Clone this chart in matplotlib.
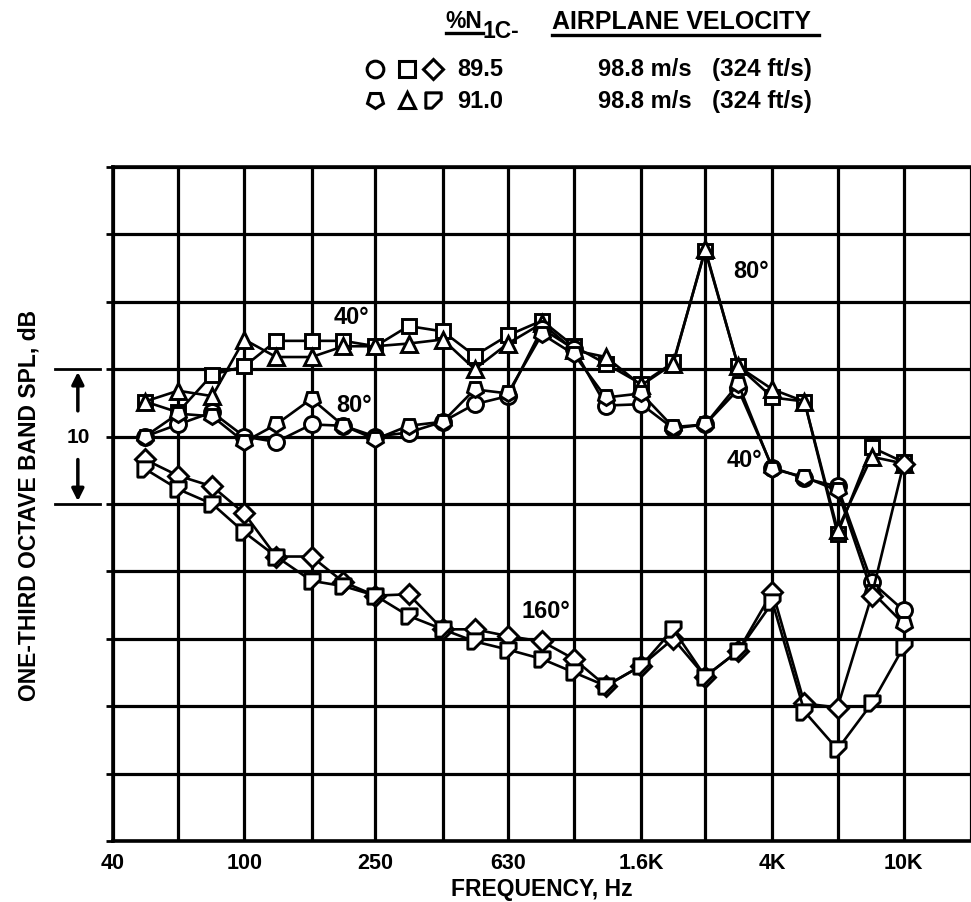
import matplotlib
matplotlib.use('Agg')
import matplotlib.pyplot as plt
from matplotlib.markers import MarkerStyle
from matplotlib.path import Path
from matplotlib.transforms import Affine2D, blended_transform_factory
from matplotlib.lines import Line2D

# ---------------- data ----------------
freq = [50, 63, 80, 100, 125, 160, 200, 250, 315, 400, 500, 630, 800, 1000,
        1250, 1600, 2000, 2500, 3150, 4000, 5000, 6300, 8000, 10000]

# 89.5 % N1C  (open circle / square / diamond)
spl_sq_895 = [82.6, 81.8, 84.6, 85.2, 87.1, 87.1, 87.1, 86.7, 88.2, 87.8, 86.0, 87.5,
              88.6, 86.7, 85.4, 83.9, 85.5, 93.8, 85.2, 82.9, 82.6, 72.8, 79.2, 78.1]
spl_ci_895 = [80.0, 80.9, 81.8, 80.0, 79.6, 80.9, 80.8, 80.0, 80.3, 81.1, 82.4, 83.0,
              88.0, 86.5, 82.3, 82.4, 80.6, 80.9, 83.5, 77.7, 76.9, 76.3, 69.2, 67.1]
spl_di_895 = [78.3, 77.1, 76.3, 74.3, 71.1, 71.1, 69.2, 68.2, 68.3, 65.7, 65.7, 65.2,
              64.8, 63.5, 61.5, 63.0, 65.0, 62.2, 64.1, 68.5, 60.2, 59.9, 68.2, 78.0]
# 91.0 % N1C  (pentagon / triangle / flag)
spl_tr_910 = [82.6, 83.4, 83.0, 87.2, 85.9, 85.9, 86.7, 86.7, 86.9, 87.2, 85.0, 86.9,
              88.4, 86.4, 85.9, 83.8, 85.4, 93.9, 85.2, 83.5, 82.6, 73.1, 78.5, 78.0]
spl_pe_910 = [80.0, 81.7, 81.5, 79.6, 80.9, 82.8, 80.8, 79.8, 80.8, 81.1, 83.5, 83.2,
              87.6, 86.1, 82.9, 83.2, 80.7, 80.9, 83.9, 77.6, 77.0, 76.0, 68.5, 66.1]
spl_fl_910 = [77.6, 76.1, 75.0, 72.9, 71.1, 69.3, 68.9, 68.2, 66.7, 65.7, 64.8, 64.2,
              63.5, 62.5, 61.5, 63.0, 65.7, 62.2, 64.1, 67.7, 59.6, 56.8, 60.2, 64.4]

grid_freqs = [40, 63, 100, 160, 250, 400, 630, 1000, 1600, 2500, 4000, 6300, 10000, 16000]
tick_labels = ['40', '', '100', '', '250', '', '630', '', '1.6K', '', '4K', '', '10K', '']

angle_labels = ['40°', '80°', '80°', '40°', '160°']
angle_pos = [(212, 88.9), (216, 82.4), (3450, 92.3), (3290, 78.3), (820, 67.1)]

nc_values = ['89.5', '91.0']
velocity = ['98.8 m/s', '98.8 m/s']
velocity_ft = ['(324 ft/s)', '(324 ft/s)']

# ---------------- style ----------------
FONT = ['Liberation Sans', 'DejaVu Sans']
plt.rcParams['font.family'] = FONT
plt.rcParams['font.weight'] = 'bold'

flag_path = Path([(-1, 1), (1, 1), (1, 0.2), (-0.2, -1), (-1, -1), (-1, 1)],
                 [Path.MOVETO, Path.LINETO, Path.LINETO, Path.LINETO, Path.LINETO, Path.CLOSEPOLY])
pent_down = MarkerStyle('p', transform=Affine2D().rotate_deg(180))

fig = plt.figure(figsize=(9.71, 9.03), dpi=100)
ax = fig.add_axes([0.1164, 0.0676, 0.8836, 0.7464])

series = [
    (spl_sq_895, 's', 10.5),
    (spl_tr_910, '^', 11.5),
    (spl_ci_895, 'o', 11.5),
    (spl_pe_910, pent_down, 12),
    (spl_di_895, 'D', 10),
    (spl_fl_910, flag_path, 11),
]
for vals, mk, ms in series:
    ax.plot(freq, vals, color='black', lw=1.9, marker=mk, ms=ms,
            mfc='white', mec='black', mew=2.1, zorder=4, clip_on=False)

ax.set_xscale('log')
ax.set_xlim(40, 16000)
ax.set_ylim(50, 100)
ax.set_xticks(grid_freqs)
ax.set_xticklabels(tick_labels)
ax.xaxis.set_minor_locator(matplotlib.ticker.NullLocator())
ax.set_yticks(range(50, 101, 5))
ax.set_yticklabels([])
ax.tick_params(axis='x', length=0, pad=8, labelsize=15.5)
ax.tick_params(axis='y', length=5, width=2, direction='out')
for lab in ax.get_xticklabels():
    lab.set_fontweight('bold')
ax.grid(True, which='major', color='black', lw=2.3, zorder=1)
for s in ['left', 'bottom', 'top']:
    ax.spines[s].set_linewidth(2.6)
ax.spines['right'].set_visible(False)

ax.set_xlabel('FREQUENCY, Hz', fontsize=16.5, fontweight='bold', labelpad=3)
ax.set_ylabel('ONE-THIRD OCTAVE BAND SPL, dB', fontsize=16.5, fontweight='bold')
ax.yaxis.set_label_coords(-0.084, 0.5)

for txt, (fx, fy) in zip(angle_labels, angle_pos):
    ax.text(fx, fy, txt, fontsize=17, fontweight='bold', ha='center', va='center', zorder=5)

# 10 dB scale bracket
tr = blended_transform_factory(ax.transAxes, ax.transData)
for yv in (85, 75):
    ax.add_line(Line2D([-0.068, -0.015], [yv, yv], transform=tr, color='black', lw=2, clip_on=False))
ax.annotate('', xy=(-0.041, 85), xytext=(-0.041, 81.7), xycoords=tr, textcoords=tr,
            arrowprops=dict(arrowstyle='-|>', color='black', lw=2.5, mutation_scale=18))
ax.annotate('', xy=(-0.041, 75), xytext=(-0.041, 78.5), xycoords=tr, textcoords=tr,
            arrowprops=dict(arrowstyle='-|>', color='black', lw=2.5, mutation_scale=18))
ax.text(-0.041, 80, '10', transform=tr, fontsize=15, fontweight='bold', ha='center', va='center')

# header legend
fig.text(0.459, 0.976, '%N', fontsize=16.5, fontweight='bold', ha='left', va='center')
fig.text(0.497, 0.965, '1C-', fontsize=16.5, fontweight='bold', ha='left', va='center')
fig.add_artist(Line2D([0.459, 0.497], [0.9625, 0.9625], color='black', lw=2.4))
fig.text(0.568, 0.976, 'AIRPLANE VELOCITY', fontsize=18, fontweight='bold', ha='left', va='center')
fig.add_artist(Line2D([0.568, 0.843], [0.9600, 0.9600], color='black', lw=2.4))

row_y = [0.9225, 0.8880]
row_markers = [[('o', 12), ('s', 11), ('D', 10.5)], [(pent_down, 12), ('^', 11.5), (flag_path, 11)]]
mk_x = [0.386, 0.419, 0.446]
for ry, mks, ncv, v1, v2 in zip(row_y, row_markers, nc_values, velocity, velocity_ft):
    for (mk, ms), mx in zip(mks, mk_x):
        fig.add_artist(Line2D([mx], [ry], marker=mk, ms=ms, mfc='white', mec='black', mew=2.2, ls='none'))
    fig.text(0.471, ry, ncv, fontsize=17, fontweight='bold', ha='left', va='center')
    fig.text(0.616, ry, v1, fontsize=17, fontweight='bold', ha='left', va='center')
    fig.text(0.733, ry, v2, fontsize=17.5, fontweight='bold', ha='left', va='center')

fig.savefig('out.png', dpi=100)
